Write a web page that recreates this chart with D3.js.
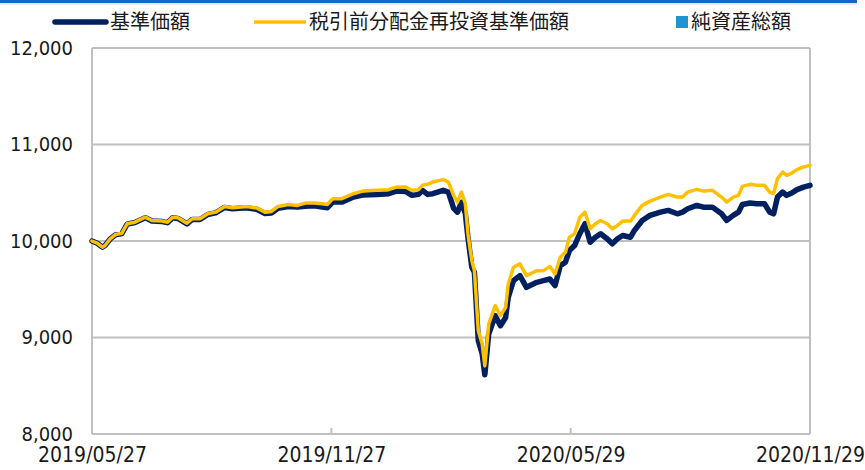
<!DOCTYPE html>
<html>
<head>
<meta charset="utf-8">
<script src="https://cdn.jsdelivr.net/npm/d3@7"></script>
<style>
  html, body { margin: 0; padding: 0; background: #fff; }
  svg { display: block; }
</style>
</head>
<body>
<svg id="chart" width="865" height="470"></svg>
<script>
const dates = [
  "2019-05-27","2019-05-31","2019-06-04","2019-06-06","2019-06-10","2019-06-14","2019-06-19","2019-06-23","2019-06-29",
  "2019-07-07","2019-07-12","2019-07-20","2019-07-24","2019-07-28","2019-08-01","2019-08-08","2019-08-12","2019-08-18",
  "2019-08-24","2019-08-30","2019-09-06","2019-09-12","2019-09-23","2019-10-01","2019-10-07","2019-10-12","2019-10-17",
  "2019-10-25","2019-11-01","2019-11-07","2019-11-14","2019-11-20","2019-11-24","2019-11-28","2019-12-05","2019-12-14",
  "2019-12-21","2020-01-01","2020-01-10","2020-01-16","2020-01-23","2020-01-28","2020-02-02","2020-02-05","2020-02-09",
  "2020-02-13","2020-02-21","2020-02-25","2020-02-29","2020-03-03","2020-03-06","2020-03-09","2020-03-11","2020-03-14",
  "2020-03-16","2020-03-19","2020-03-22","2020-03-24","2020-03-27","2020-04-01","2020-04-05","2020-04-09","2020-04-11",
  "2020-04-15","2020-04-20","2020-04-25","2020-05-03","2020-05-08","2020-05-13","2020-05-17","2020-05-21","2020-05-25",
  "2020-05-28","2020-06-01","2020-06-05","2020-06-09","2020-06-13","2020-06-17","2020-06-21","2020-06-26","2020-06-30",
  "2020-07-04","2020-07-08","2020-07-14","2020-07-17","2020-07-23","2020-07-29","2020-08-06","2020-08-12","2020-08-19",
  "2020-08-23","2020-08-27","2020-09-03","2020-09-08","2020-09-15","2020-09-22","2020-09-26","2020-10-01","2020-10-05",
  "2020-10-08","2020-10-14","2020-10-19","2020-10-25","2020-10-29","2020-11-01","2020-11-04","2020-11-08","2020-11-11",
  "2020-11-15","2020-11-19","2020-11-24","2020-11-29"
];

// 基準価額
const navValues = [
  10000,9977,9936,9953,10021,10064,10078,10175,10192,
  10242,10208,10201,10190,10241,10234,10178,10223,10223,
  10275,10291,10348,10334,10345,10327,10285,10291,10340,
  10358,10351,10361,10364,10351,10345,10403,10403,10455,
  10476,10483,10490,10517,10514,10473,10483,10525,10483,
  10490,10525,10507,10338,10299,10400,10286,10039,9728,
  9676,8966,8828,8613,9036,9226,9122,9208,9416,
  9589,9641,9520,9572,9589,9606,9538,9745,9780,
  9901,9953,10075,10179,9987,10039,10075,10023,9971,
  10023,10057,10039,10109,10213,10265,10299,10317,10282,
  10299,10334,10369,10351,10351,10282,10213,10265,10299,
  10378,10393,10386,10386,10299,10282,10455,10507,10473,
  10497,10532,10558,10577
];

// 税引前分配金再投資基準価額
const reinvestValues = [
  10000,9977,9936,9953,10023,10067,10081,10179,10195,
  10247,10213,10206,10195,10247,10241,10185,10231,10231,
  10283,10299,10358,10345,10358,10341,10299,10306,10358,
  10379,10369,10393,10393,10386,10379,10438,10438,10490,
  10517,10525,10532,10559,10559,10525,10532,10577,10587,
  10611,10636,10611,10473,10403,10507,10389,10078,9797,
  9693,9070,8932,8706,9140,9330,9226,9312,9555,
  9728,9763,9641,9693,9693,9735,9659,9832,9884,
  10040,10075,10247,10299,10126,10179,10213,10179,10126,
  10161,10206,10206,10265,10369,10413,10455,10483,10455,
  10455,10507,10535,10517,10525,10455,10403,10455,10473,
  10566,10587,10577,10577,10507,10490,10646,10715,10680,
  10704,10740,10767,10784
];

const yTicks = [8000, 9000, 10000, 11000, 12000];
const xTickDates = ["2019-05-27", "2019-11-27", "2020-05-29", "2020-11-29"];
const xTickLabels = ["2019/05/27", "2019/11/27", "2020/05/29", "2020/11/29"];
const legendLabels = ["基準価額", "税引前分配金再投資基準価額", "純資産総額"];

const parse = d3.timeParse("%Y-%m-%d");
const svg = d3.select("#chart");

const plotL = 92, plotR = 810, plotT = 48, plotB = 434;
const x = d3.scaleTime().domain([parse(xTickDates[0]), parse(xTickDates[3])]).range([plotL, plotR]);
const y = d3.scaleLinear().domain([8000, 12000]).range([plotB, plotT]);

// top banner line
svg.append("rect").attr("x", 0).attr("y", 0).attr("width", 857).attr("height", 3).attr("fill", "#1565c8");
svg.append("rect").attr("x", 0).attr("y", 3).attr("width", 857).attr("height", 2).attr("fill", "#e3eaf3");

const gridColor = "#c0c0c0";

// horizontal gridlines
svg.append("g").selectAll("line").data(yTicks).join("line")
  .attr("x1", plotL).attr("x2", plotR)
  .attr("y1", d => y(d)).attr("y2", d => y(d))
  .attr("stroke", gridColor).attr("stroke-width", 2);

// vertical frame lines
[plotL, plotR].forEach(px => {
  svg.append("line").attr("x1", px).attr("x2", px).attr("y1", plotT).attr("y2", plotB)
    .attr("stroke", gridColor).attr("stroke-width", 2);
});

// y axis labels
const yAxis = d3.axisLeft(y).tickValues(yTicks).tickSize(0).tickPadding(0)
  .tickFormat(d3.format(","));
const yg = svg.append("g").attr("transform", `translate(${plotL - 19},0)`).call(yAxis);
yg.select(".domain").remove();
yg.selectAll("text").attr("font-family", "'DejaVu Sans Condensed', 'DejaVu Sans', sans-serif")
  .attr("font-size", 20).attr("fill", "#1a1a1a");

// x axis: ticks and labels
const xAxis = d3.axisBottom(x).tickValues(xTickDates.map(parse)).tickSize(0).tickPadding(0)
  .tickFormat((d, i) => xTickLabels[i]);
const xg = svg.append("g").attr("transform", `translate(0,${plotB + 13})`).call(xAxis);
xg.select(".domain").remove();
xg.selectAll("text").attr("font-family", "'DejaVu Sans Condensed', 'DejaVu Sans', sans-serif")
  .attr("font-size", 21).attr("fill", "#1a1a1a");

svg.append("g").selectAll("line").data(xTickDates.slice(1, 3).map(parse)).join("line")
  .attr("x1", d => x(d)).attr("x2", d => x(d))
  .attr("y1", plotB).attr("y2", plotB - 6)
  .attr("stroke", gridColor).attr("stroke-width", 2);

// lines
const navData = dates.map((d, i) => ({ date: parse(d), v: navValues[i] }));
const reData = dates.map((d, i) => ({ date: parse(d), v: reinvestValues[i] }));
const line = d3.line().x(d => x(d.date)).y(d => y(d.v));

svg.append("path").datum(navData).attr("d", line)
  .attr("fill", "none").attr("stroke", "#002060").attr("stroke-width", 5.5)
  .attr("stroke-linejoin", "round").attr("stroke-linecap", "round");
svg.append("path").datum(reData).attr("d", line)
  .attr("fill", "none").attr("stroke", "#ffc000").attr("stroke-width", 3.5)
  .attr("stroke-linejoin", "round").attr("stroke-linecap", "round");

// legend
const lg = svg.append("g");
const cjk = "'Noto Sans CJK JP', 'Noto Sans', sans-serif";
lg.append("line").attr("x1", 55).attr("x2", 106).attr("y1", 22).attr("y2", 22)
  .attr("stroke", "#002060").attr("stroke-width", 5.5).attr("stroke-linecap", "round");
lg.append("text").attr("x", 110).attr("y", 22).attr("dy", "0.35em").text(legendLabels[0])
  .attr("font-family", cjk).attr("font-size", 20).attr("fill", "#1a1a1a");
lg.append("line").attr("x1", 254).attr("x2", 306).attr("y1", 22).attr("y2", 22)
  .attr("stroke", "#ffc000").attr("stroke-width", 3.5);
lg.append("text").attr("x", 309).attr("y", 22).attr("dy", "0.35em").text(legendLabels[1])
  .attr("font-family", cjk).attr("font-size", 20).attr("fill", "#1a1a1a");
lg.append("rect").attr("x", 676).attr("y", 16).attr("width", 12).attr("height", 12).attr("fill", "#1f95d0");
lg.append("text").attr("x", 691).attr("y", 22).attr("dy", "0.35em").text(legendLabels[2])
  .attr("font-family", cjk).attr("font-size", 20).attr("fill", "#1a1a1a");
</script>
</body>
</html>
